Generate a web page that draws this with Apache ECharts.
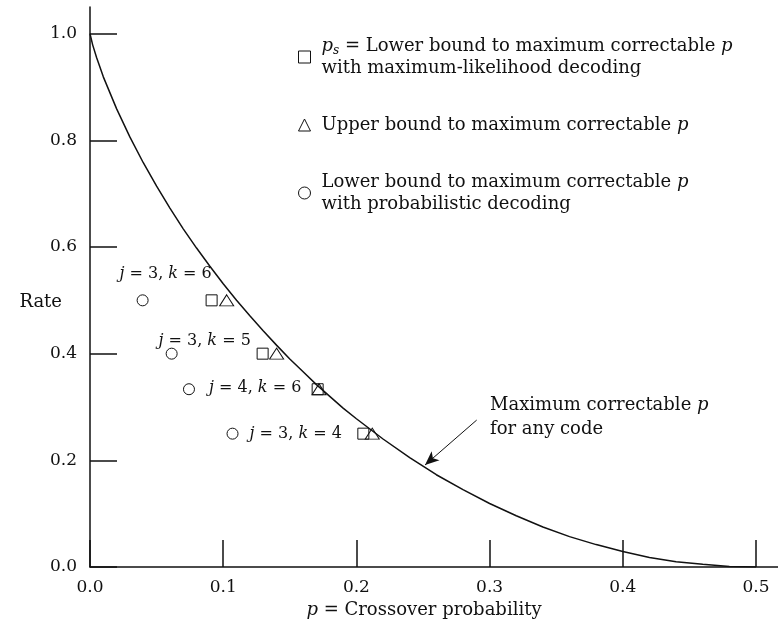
<!DOCTYPE html>
<html>
<head>
<meta charset="utf-8">
<script src="https://cdn.jsdelivr.net/npm/echarts@6/dist/echarts.min.js"></script>
<style>
  html, body { margin: 0; padding: 0; background: #fff; }
  #main { width: 778px; height: 631px; }
</style>
</head>
<body>
<div id="main"></div>
<script>
// curve: maximum correctable p for any code
const curveP = [0, 0.002, 0.005, 0.01, 0.02, 0.03, 0.04, 0.05, 0.06, 0.07, 0.08, 0.09, 0.10,
  0.11, 0.12, 0.13, 0.14, 0.15, 0.16, 0.17, 0.18, 0.19, 0.20, 0.22, 0.24, 0.26, 0.28, 0.30,
  0.32, 0.34, 0.36, 0.38, 0.40, 0.42, 0.44, 0.46, 0.48, 0.50];
const curveRate = [1.0, 0.979, 0.955, 0.919, 0.859, 0.806, 0.758, 0.714, 0.673, 0.634, 0.598,
  0.564, 0.531, 0.500, 0.471, 0.443, 0.416, 0.390, 0.366, 0.342, 0.320, 0.298, 0.278, 0.240,
  0.205, 0.173, 0.145, 0.119, 0.096, 0.075, 0.057, 0.042, 0.029, 0.018, 0.010, 0.005, 0.001, 0.0];

// codes (j, k) and their rates
const codeJ = [3, 3, 4, 3];
const codeK = [6, 5, 6, 4];
const rates = [0.5, 0.4, 1 / 3, 0.25];
const squareP = [0.0913, 0.1296, 0.1709, 0.2052];
const triangleP = [0.1026, 0.1401, 0.1719, 0.2119];
const circleP = [0.0395, 0.0613, 0.0743, 0.1070];

const xTicks = [0, 0.1, 0.2, 0.3, 0.4, 0.5];
const yTicks = [0, 0.2, 0.4, 0.6, 0.8, 1.0];

const FONT = 'DejaVu Serif';
const INK = '#111';

const zip = (xs, ys) => xs.map((x, i) => [x, ys[i]]);

const legendText = {
  'square': '{i|p}{sub|s} = Lower bound to maximum correctable {i|p}\nwith maximum-likelihood decoding',
  'triangle': 'Upper bound to maximum correctable {i|p}',
  'circle': 'Lower bound to maximum correctable {i|p}\nwith probabilistic decoding'
};

const labelPlace = [
  {position: 'top', offset: [23, -7]},
  {position: 'top', offset: [33, 6]},
  {position: 'right', offset: [9, -1]},
  {position: 'right', offset: [6, 0]}
];

const markerStyle = {color: 'rgba(255,255,255,0)', borderColor: INK, borderWidth: 1, opacity: 1};
const italic = size => ({fontStyle: 'italic', fontSize: size, fontFamily: FONT, color: INK});

const chart = echarts.init(document.getElementById('main'));
chart.setOption({
  animation: false,
  textStyle: {fontFamily: FONT, color: INK},
  grid: {left: 90, right: 0, top: 7, bottom: 64, containLabel: false, outerBoundsMode: 'none'},
  xAxis: {
    type: 'value', min: 0, max: 0.5165,
    name: '{i|p} = Crossover probability',
    nameLocation: 'middle', nameGap: 32,
    nameTextStyle: {
      fontFamily: FONT, fontSize: 18, color: INK, padding: [0, 20, 0, 0],
      rich: {i: italic(18)}
    },
    axisLine: {lineStyle: {color: INK, width: 1.5}},
    axisTick: {inside: true, length: 27, customValues: xTicks, lineStyle: {color: INK, width: 1.5}},
    axisLabel: {customValues: xTicks, margin: 12, fontSize: 17, color: INK, fontFamily: FONT,
      formatter: v => v.toFixed(1)},
    splitLine: {show: false}
  },
  yAxis: {
    type: 'value', min: 0, max: 1.05,
    name: 'Rate', nameLocation: 'middle', nameRotate: 0, nameGap: 28, nameMoveOverlap: false,
    nameTextStyle: {fontFamily: FONT, fontSize: 18, color: INK, verticalAlign: 'top', lineHeight: 30},
    axisLine: {lineStyle: {color: INK, width: 1.5}},
    axisTick: {inside: true, length: 27, customValues: yTicks, lineStyle: {color: INK, width: 1.5}},
    axisLabel: {customValues: yTicks, margin: 13, fontSize: 17, color: INK, fontFamily: FONT,
      formatter: v => v.toFixed(1)},
    splitLine: {show: false}
  },
  legend: {
    data: ['square', 'triangle', 'circle'],
    orient: 'vertical', left: 298, top: 35, padding: 0,
    itemWidth: 12, itemHeight: 12, itemGap: 35,
    itemStyle: {borderWidth: 1},
    selectedMode: false,
    formatter: name => legendText[name],
    textStyle: {
      fontFamily: FONT, fontSize: 18, color: INK, lineHeight: 22, padding: [0, 0, 0, 6],
      rich: {
        i: italic(18),
        sub: {fontStyle: 'italic', fontSize: 12, fontFamily: FONT, color: INK, padding: [10, 0, 0, 0]}
      }
    }
  },
  series: [
    {
      name: 'curve', type: 'line', data: zip(curveP, curveRate),
      showSymbol: false, smooth: false,
      lineStyle: {color: INK, width: 1.5},
      markLine: {
        silent: true, symbol: ['none', 'arrow'], symbolSize: [9, 14],
        lineStyle: {color: INK, width: 1, type: 'solid'},
        label: {show: false},
        data: [[{coord: [0.2903, 0.2755]}, {coord: [0.2515, 0.1912]}]]
      }
    },
    {
      name: 'gap', type: 'scatter', data: zip(triangleP, rates),
      symbol: 'triangle', symbolSize: [14, 11], silent: true,
      itemStyle: {color: '#fff', borderColor: '#fff', borderWidth: 6, opacity: 1}
    },
    {
      name: 'square', type: 'scatter', data: zip(squareP, rates),
      symbol: 'rect', symbolSize: 11, itemStyle: markerStyle
    },
    {
      name: 'triangle', type: 'scatter', data: zip(triangleP, rates),
      symbol: 'triangle', symbolSize: [14, 11], itemStyle: markerStyle
    },
    {
      name: 'circle', type: 'scatter', symbol: 'circle', symbolSize: 11, itemStyle: markerStyle,
      data: circleP.map((p, i) => ({
        value: [p, rates[i]],
        label: {
          show: true, position: labelPlace[i].position, offset: labelPlace[i].offset,
          formatter: '{i|j} = ' + codeJ[i] + ', {i|k} = ' + codeK[i],
          fontFamily: FONT, fontSize: 16, color: INK,
          rich: {i: italic(16)}
        }
      }))
    }
  ],
  graphic: [
    {
      type: 'text', left: 490, top: 393,
      style: {
        text: 'Maximum correctable {i|p}\nfor any code',
        fontFamily: FONT, fontSize: 18, fill: INK, lineHeight: 24,
        rich: {i: italic(18)}
      }
    }
  ]
});
</script>
</body>
</html>
